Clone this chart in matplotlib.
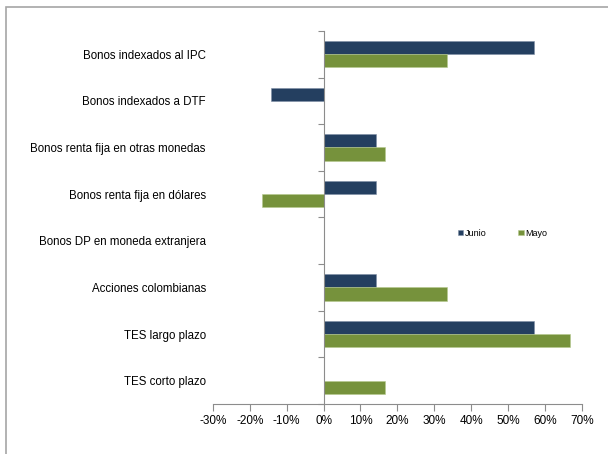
import matplotlib
matplotlib.use("Agg")
import matplotlib.pyplot as plt
from matplotlib.patches import Rectangle
from matplotlib.ticker import FixedLocator, FuncFormatter
import numpy as np

plt.rcParams['font.family'] = ['Liberation Sans', 'DejaVu Sans']

categories = [
    "Bonos indexados al IPC",
    "Bonos indexados a DTF",
    "Bonos renta fija en otras monedas",
    "Bonos renta fija en dólares",
    "Bonos DP en moneda extranjera",
    "Acciones colombianas",
    "TES largo plazo",
    "TES corto plazo",
]
junio = [57.14, -14.29, 14.29, 14.29, 0.0, 14.29, 57.14, 0.0]
mayo = [33.33, 0.0, 16.67, -16.67, 0.0, 33.33, 66.67, 16.67]
series_names = ["Junio", "Mayo"]
x_ticks = [-30, -20, -10, 0, 10, 20, 30, 40, 50, 60, 70]

navy = "#243F60"
green = "#76923C"
gray = "#8C8C8C"

fig = plt.figure(figsize=(6.08, 4.54), dpi=100)
ax = fig.add_axes([0.350, 0.110, 0.607, 0.822])

n = len(categories)
y = np.arange(n)
h = 0.285
ax.barh(y - h / 2, junio, height=h, color=navy, label=series_names[0],
        edgecolor="#7F8FA6", linewidth=0.4)
ax.barh(y + h / 2, mayo, height=h, color=green, label=series_names[1],
        edgecolor="#B5C98E", linewidth=0.4)

ax.set_ylim(n - 0.5, -0.5)
ax.set_xlim(x_ticks[0], x_ticks[-1])

# x axis
ax.set_xticks(x_ticks)
ax.xaxis.set_major_formatter(FuncFormatter(lambda v, p: f"{v:.0f}%"))
ax.tick_params(axis="x", direction="out", length=5, width=0.8, color=gray,
               labelsize=8.5, pad=3)
ax.spines["bottom"].set_color(gray)
ax.spines["top"].set_visible(False)

# category labels on the left, axis line at zero with boundary ticks
ax.set_yticks(y)
ax.set_yticklabels(categories)
ax.tick_params(axis="y", which="major", length=0, labelsize=8.3, pad=5)
ax.spines["left"].set_visible(False)
ax.spines["right"].set_position(("data", 0))
ax.spines["right"].set_color(gray)
ax.yaxis.set_minor_locator(FixedLocator(np.arange(n + 1) - 0.5))
ax.tick_params(axis="y", which="minor", left=False, right=True,
               direction="in", length=4, width=0.8, color=gray)

ax.legend(loc="center", bbox_to_anchor=(0.785, 0.458), ncol=2, frameon=False,
          fontsize=6.5, handlelength=0.6, handleheight=0.6, handletextpad=0.2,
          columnspacing=3.5)

# outer frame
fig.patches.append(Rectangle((6 / 608, -0.05), 1.1, 1 - 7 / 454 + 0.05,
                             transform=fig.transFigure, fill=False,
                             edgecolor="#A6A6A6", linewidth=1.2))

fig.savefig("out.png", dpi=100)
